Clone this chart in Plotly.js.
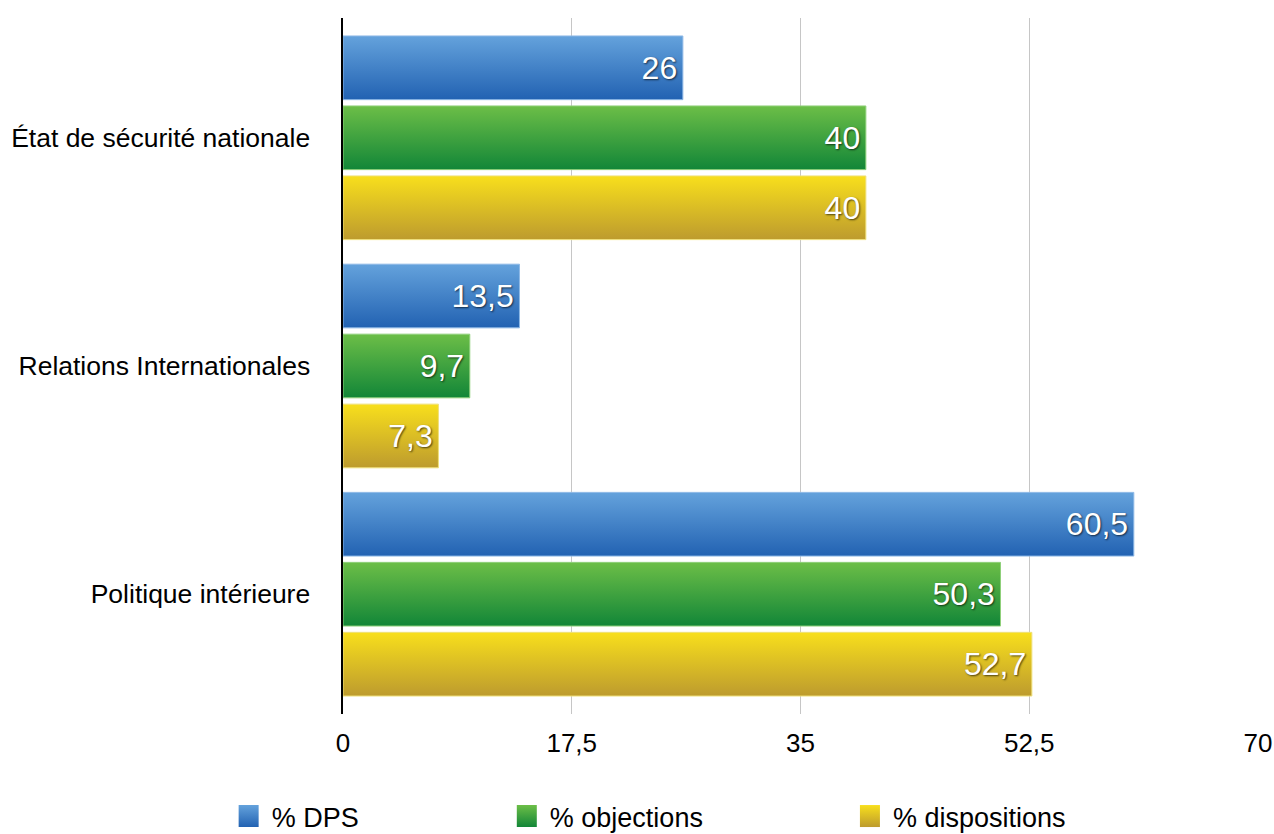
<!DOCTYPE html>
<html><head><meta charset="utf-8">
<script src="https://cdn.plot.ly/plotly-3.0.1.min.js"></script>
<style>html,body{margin:0;padding:0;background:#fff;}#chart{width:1274px;height:834px;}</style>
</head><body><div id="chart"></div>
<script>
const categories = ['État de sécurité nationale', 'Relations Internationales', 'Politique intérieure'];
const seriesNames = ['% DPS', '% objections', '% dispositions'];
const dps = [26, 13.5, 60.5];
const objections = [40, 9.7, 50.3];
const dispositions = [40, 7.3, 52.7];
const xTickVals = [0, 17.5, 35, 52.5, 70];

const seriesValues = [dps, objections, dispositions];
const baseColors = ['#3d7fc8', '#35a346', '#dcc020'];
const lineColors = ['#8db8e6', '#8fd07a', '#efe07a'];
const gradStops = [
  ['#64a2dc', '#2262b2'],
  ['#6cbe47', '#128638'],
  ['#f8df1c', '#bd9b2e']
];
const fmt = v => String(v).replace('.', ',');
const legendIds = ['legend', 'legend2', 'legend3'];
const FONT = 'Liberation Sans, Arial, sans-serif';

const traces = seriesValues.map((vals, i) => ({
  type: 'bar',
  orientation: 'h',
  name: seriesNames[i],
  y: categories,
  x: vals,
  text: vals.map(v => fmt(v) + '\u200a'),
  textposition: 'inside',
  insidetextanchor: 'end',
  textangle: 0,
  textfont: {family: FONT, size: 32, color: '#ffffff', shadow: '1px 1px 2px rgba(0,0,0,0.65)'},
  marker: {color: baseColors[i], line: {color: lineColors[i], width: 1}},
  legend: legendIds[i],
  hoverinfo: 'x+y'
}));

const legendBase = {
  orientation: 'h', yref: 'container', yanchor: 'middle', y: 0.021, xanchor: 'left',
  font: {family: FONT, size: 27, color: '#000'},
  bgcolor: 'rgba(0,0,0,0)'
};

const layout = {
  width: 1274, height: 834,
  margin: {l: 343, r: 16, t: 18, b: 120, autoexpand: false},
  paper_bgcolor: '#ffffff', plot_bgcolor: '#ffffff',
  separators: ', ',
  barmode: 'group',
  bargap: 0.08,
  bargroupgap: 0.09,
  font: {family: FONT, size: 26, color: '#000'},
  xaxis: {
    range: [0, 70], tickvals: xTickVals, ticktext: xTickVals.map(fmt),
    showgrid: true, gridcolor: '#c6c6c6', gridwidth: 1,
    zeroline: false, showline: false, ticks: '',
    ticklabelstandoff: 11,
    tickfont: {family: FONT, size: 26, color: '#000'}
  },
  yaxis: {
    type: 'category', range: [2.525, -0.525],
    showgrid: false, zeroline: false,
    showline: true, linecolor: '#000', linewidth: 2.5,
    ticks: '', ticklabelstandoff: 25,
    tickfont: {family: FONT, size: 26.5, color: '#000'}
  },
  showlegend: true,
  legend: Object.assign({}, legendBase, {x: -0.1217}),
  legend2: Object.assign({}, legendBase, {x: 0.1823}),
  legend3: Object.assign({}, legendBase, {x: 0.5573})
};

Plotly.newPlot('chart', traces, layout, {displayModeBar: false, staticPlot: true}).then(gd => {
  const svg = gd.querySelector('svg.main-svg');
  const ns = 'http://www.w3.org/2000/svg';
  let defs = svg.querySelector('defs');
  if (!defs) { defs = document.createElementNS(ns, 'defs'); svg.insertBefore(defs, svg.firstChild); }
  gradStops.forEach((st, i) => {
    const g = document.createElementNS(ns, 'linearGradient');
    g.setAttribute('id', 'bargrad' + i);
    g.setAttribute('x1', '0'); g.setAttribute('y1', '0');
    g.setAttribute('x2', '0'); g.setAttribute('y2', '1');
    st.forEach((c, k) => {
      const s = document.createElementNS(ns, 'stop');
      s.setAttribute('offset', k === 0 ? '0' : '1');
      s.setAttribute('stop-color', c);
      g.appendChild(s);
    });
    defs.appendChild(g);
  });
  gd.querySelectorAll('.barlayer .trace').forEach((tr, i) => {
    tr.querySelectorAll('path').forEach(p => { p.style.fill = 'url(#bargrad' + i + ')'; });
  });
  gd.querySelectorAll('g.traces').forEach(tg => {
    const d = tg.__data__;
    const idx = d && d[0] && d[0].trace ? d[0].trace.index : null;
    if (idx === null) return;
    tg.querySelectorAll('.legendpoints path').forEach(p => {
      p.setAttribute('d', 'M-13,-11H7V11H-13Z');
      p.style.fill = 'url(#bargrad' + idx + ')';
      p.style.stroke = 'none';
    });
  });
});
</script>
</body></html>
